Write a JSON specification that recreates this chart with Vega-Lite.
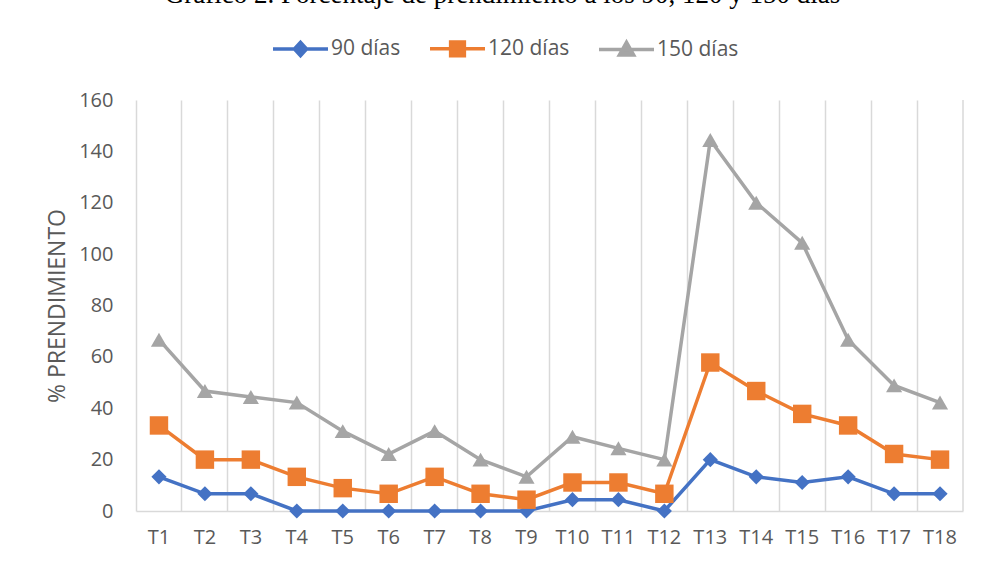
{
  "$schema": "https://vega.github.io/schema/vega-lite/v6.json",
  "width": 827,
  "height": 411,
  "autosize": {"type": "none"},
  "padding": {"left": 136, "top": 100, "right": 21, "bottom": 53},
  "background": "white",
  "title": {
    "text": "Gráfico 2. Porcentaje de prendimiento a los 90, 120 y 150 días",
    "font": "Liberation Serif",
    "fontSize": 27,
    "fontWeight": "normal",
    "color": "#000000",
    "anchor": "middle",
    "frame": "group",
    "baseline": "alphabetic",
    "offset": 0,
    "dx": -47,
    "dy": 11
  },
  "config": {
    "view": {"stroke": null},
    "font": "Open Sans"
  },
  "data": {
    "values": [
      {"t": "T1", "serie": "90 días", "v": 13.3},
      {"t": "T2", "serie": "90 días", "v": 6.7},
      {"t": "T3", "serie": "90 días", "v": 6.7},
      {"t": "T4", "serie": "90 días", "v": 0},
      {"t": "T5", "serie": "90 días", "v": 0},
      {"t": "T6", "serie": "90 días", "v": 0},
      {"t": "T7", "serie": "90 días", "v": 0},
      {"t": "T8", "serie": "90 días", "v": 0},
      {"t": "T9", "serie": "90 días", "v": 0},
      {"t": "T10", "serie": "90 días", "v": 4.4},
      {"t": "T11", "serie": "90 días", "v": 4.4},
      {"t": "T12", "serie": "90 días", "v": 0},
      {"t": "T13", "serie": "90 días", "v": 20},
      {"t": "T14", "serie": "90 días", "v": 13.3},
      {"t": "T15", "serie": "90 días", "v": 11.1},
      {"t": "T16", "serie": "90 días", "v": 13.3},
      {"t": "T17", "serie": "90 días", "v": 6.7},
      {"t": "T18", "serie": "90 días", "v": 6.7},
      {"t": "T1", "serie": "120 días", "v": 33.3},
      {"t": "T2", "serie": "120 días", "v": 20},
      {"t": "T3", "serie": "120 días", "v": 20},
      {"t": "T4", "serie": "120 días", "v": 13.3},
      {"t": "T5", "serie": "120 días", "v": 8.9},
      {"t": "T6", "serie": "120 días", "v": 6.7},
      {"t": "T7", "serie": "120 días", "v": 13.3},
      {"t": "T8", "serie": "120 días", "v": 6.7},
      {"t": "T9", "serie": "120 días", "v": 4.4},
      {"t": "T10", "serie": "120 días", "v": 11.1},
      {"t": "T11", "serie": "120 días", "v": 11.1},
      {"t": "T12", "serie": "120 días", "v": 6.7},
      {"t": "T13", "serie": "120 días", "v": 57.8},
      {"t": "T14", "serie": "120 días", "v": 46.7},
      {"t": "T15", "serie": "120 días", "v": 37.8},
      {"t": "T16", "serie": "120 días", "v": 33.3},
      {"t": "T17", "serie": "120 días", "v": 22.2},
      {"t": "T18", "serie": "120 días", "v": 20},
      {"t": "T1", "serie": "150 días", "v": 66.7},
      {"t": "T2", "serie": "150 días", "v": 46.7},
      {"t": "T3", "serie": "150 días", "v": 44.4},
      {"t": "T4", "serie": "150 días", "v": 42.2},
      {"t": "T5", "serie": "150 días", "v": 31.1},
      {"t": "T6", "serie": "150 días", "v": 22.2},
      {"t": "T7", "serie": "150 días", "v": 31.1},
      {"t": "T8", "serie": "150 días", "v": 20},
      {"t": "T9", "serie": "150 días", "v": 13.3},
      {"t": "T10", "serie": "150 días", "v": 28.9},
      {"t": "T11", "serie": "150 días", "v": 24.4},
      {"t": "T12", "serie": "150 días", "v": 20},
      {"t": "T13", "serie": "150 días", "v": 144.4},
      {"t": "T14", "serie": "150 días", "v": 120},
      {"t": "T15", "serie": "150 días", "v": 104.4},
      {"t": "T16", "serie": "150 días", "v": 66.7},
      {"t": "T17", "serie": "150 días", "v": 48.9},
      {"t": "T18", "serie": "150 días", "v": 42.2}
    ]
  },
  "encoding": {
    "x": {
      "field": "t",
      "type": "nominal",
      "sort": null,
      "scale": {
        "domain": ["T1", "T2", "T3", "T4", "T5", "T6", "T7", "T8", "T9", "T10", "T11", "T12", "T13", "T14", "T15", "T16", "T17", "T18"],
        "paddingInner": 0,
        "paddingOuter": 0
      },
      "axis": {
        "title": null,
        "labelAngle": 0,
        "labelFontSize": 20,
        "labelColor": "#595959",
        "labelPadding": 16,
        "bandPosition": 0,
        "ticks": false,
        "grid": true,
        "gridColor": "#D9D9D9",
        "gridWidth": 1.5,
        "domainColor": "#D9D9D9",
        "domainWidth": 1.5
      }
    },
    "y": {
      "field": "v",
      "type": "quantitative",
      "scale": {"domain": [0, 160], "nice": false},
      "axis": {
        "title": "% PRENDIMIENTO",
        "titleFontSize": 23,
        "titleFontWeight": "normal",
        "titleColor": "#595959",
        "titlePadding": 9,
        "values": [0, 20, 40, 60, 80, 100, 120, 140, 160],
        "labelFontSize": 20,
        "labelColor": "#595959",
        "labelPadding": 23,
        "tickSize": 0,
        "ticks": false,
        "domain": false,
        "grid": false
      }
    }
  },
  "layer": [
    {
      "data": {"values": [{"edge": "T18"}]},
      "mark": {"type": "rule", "color": "#D9D9D9", "strokeWidth": 1.5},
      "encoding": {
        "x": {"field": "edge", "type": "nominal", "bandPosition": 1},
        "y": null
      }
    },
    {
      "mark": {"type": "line", "strokeWidth": 3.5},
      "encoding": {
        "color": {
          "field": "serie",
          "type": "nominal",
          "sort": ["90 días", "120 días", "150 días"],
          "scale": {"domain": ["90 días", "120 días", "150 días"], "range": ["#4472C4", "#ED7D31", "#A5A5A5"]},
          "legend": {
            "title": null,
            "orient": "none",
            "direction": "horizontal",
            "legendX": 135,
            "legendY": -81,
            "padding": 0,
            "symbolSize": 3025,
            "symbolStrokeWidth": 3.5,
            "labelFontSize": 21,
            "labelColor": "#595959",
            "labelOffset": 1,
            "columnPadding": 22,
            "labelLimit": 300,
            "encode": {
              "symbols": {
                "update": {
                  "shape": {"signal": "datum.value === '90 días' ? 'M-1,0H1M-0.22,0L0,-0.24L0.22,0L0,0.24Z' : datum.value === '120 días' ? 'M-1,0H1M-0.25,-0.25H0.25V0.25H-0.25Z' : 'M-1,0H1M-0.26,0.2L0,-0.26L0.26,0.2Z'"},
                  "fill": {"scale": "color", "field": "value"},
                  "stroke": {"scale": "color", "field": "value"},
                  "fillOpacity": {"value": 1},
                  "strokeWidth": {"value": 3.5}
                }
              }
            }
          }
        }
      }
    },
    {
      "transform": [{"filter": "datum.serie === '90 días'"}],
      "mark": {"type": "point", "filled": true, "opacity": 1, "shape": "diamond", "color": "#4472C4", "size": 230}
    },
    {
      "transform": [{"filter": "datum.serie === '120 días'"}],
      "mark": {"type": "point", "filled": true, "opacity": 1, "shape": "square", "color": "#ED7D31", "size": 340}
    },
    {
      "transform": [{"filter": "datum.serie === '150 días'"}],
      "mark": {"type": "point", "filled": true, "opacity": 1, "shape": "triangle-up", "color": "#A5A5A5", "size": 260}
    }
  ]
}
